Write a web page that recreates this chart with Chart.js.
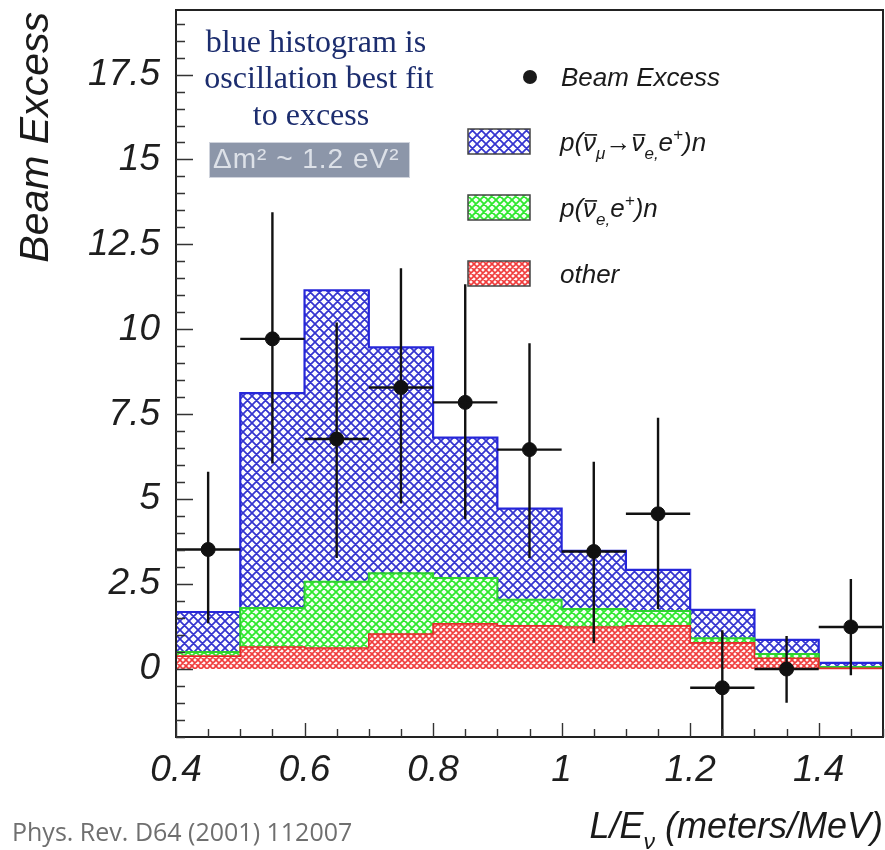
<!DOCTYPE html>
<html>
<head>
<meta charset="utf-8">
<script src="https://cdn.jsdelivr.net/npm/chart.js@4.4.0/dist/chart.umd.min.js"></script>
<style>
  html, body { margin: 0; padding: 0; background: #fff; }
  #wrap { width: 885px; height: 850px; }
</style>
</head>
<body>
<div id="wrap"><canvas id="chart" width="885" height="850"></canvas></div>
<script>
// bin lower edges in L/E (meters/MeV), every bin is 0.1 wide
var binLow = [0.4, 0.5, 0.6, 0.7, 0.8, 0.9, 1.0, 1.1, 1.2, 1.3, 1.4];
var binWidth = 0.1;

// expected events per bin, stacked bottom to top: other, nu_e bar, oscillation fit
var otherBkg = [0.38, 0.65, 0.62, 1.03, 1.33, 1.27, 1.24, 1.27, 0.77, 0.32, 0.02];
var nueBkg   = [0.12, 1.15, 1.95, 1.79, 1.35, 0.77, 0.53, 0.44, 0.14, 0.12, 0.04];
var oscFit   = [1.18, 6.32, 8.58, 6.65, 4.13, 2.68, 1.71, 1.21, 0.83, 0.42, 0.12];

// beam excess per bin with upper / lower errors
var excess  = [3.52, 9.72, 6.77, 8.29, 7.85, 6.46, 3.46, 4.57, -0.55, 0.00, 1.24];
var errUp   = [2.29, 3.73, 3.43, 3.51, 3.48, 3.13, 2.64, 2.83, 1.69, 0.97, 1.41];
var errDown = [2.17, 3.67, 3.50, 3.42, 3.43, 3.19, 2.69, 2.80, 1.69, 0.99, 1.42];

var xTickLabels = [0.4, 0.6, 0.8, 1, 1.2, 1.4];
var yTickLabels = [0, 2.5, 5, 7.5, 10, 12.5, 15, 17.5];

var SANS = '"Liberation Sans", Arial, Helvetica, sans-serif';
var ctx = document.getElementById('chart').getContext('2d');

// diagonal cross-hatch fill, like ROOT's fill style 3144
function makeHatch(p, line, bg, lw) {
  var c = document.createElement('canvas');
  c.width = p; c.height = p;
  var g = c.getContext('2d');
  g.fillStyle = bg;
  g.fillRect(0, 0, p, p);
  g.strokeStyle = line;
  g.lineWidth = lw;
  g.beginPath();
  for (var k = -1; k <= 1; k++) {
    g.moveTo(k * p - p, -p); g.lineTo(k * p + 2 * p, 2 * p);
  }
  for (var j = 0; j <= 2; j++) {
    g.moveTo(j * p + p, -p); g.lineTo(j * p - 2 * p, 2 * p);
  }
  g.stroke();
  return ctx.createPattern(c, 'repeat');
}

var blueHatch  = makeHatch(9, '#3434cf', '#fbfbff', 1.7);
var greenHatch = makeHatch(8, '#2ee82e', '#f4fff4', 1.8);
var redHatch   = makeHatch(6, '#f03c3c', '#fff6f6', 1.6);

// cumulative stack tops, one extra point closes the last bin at 1.5
function stackSteps(parts) {
  var pts = binLow.map(function (x, i) {
    var y = 0;
    parts.forEach(function (arr) { y += arr[i]; });
    return { x: x, y: +y.toFixed(3) };
  });
  var last = pts[pts.length - 1];
  pts.push({ x: +(last.x + binWidth).toFixed(2), y: last.y });
  return pts;
}

var points = binLow.map(function (x, i) {
  return { x: +(x + binWidth / 2).toFixed(3), y: excess[i] };
});

function histDataset(label, parts, color, pattern, order, lw) {
  return {
    label: label,
    data: stackSteps(parts),
    stepped: 'before',
    borderColor: color,
    borderWidth: lw,
    backgroundColor: pattern,
    fill: 'origin',
    pointRadius: 0,
    order: order
  };
}

// text with sub/superscript runs
function drawRuns(c, x, y, runs, size, measureOnly) {
  var cx = x;
  runs.forEach(function (r) {
    var s = r.sub || r.sup ? Math.round(size * 0.65) : size;
    var dy = r.sub ? size * 0.3 : (r.sup ? -size * 0.42 : 0);
    c.font = 'italic ' + s + 'px ' + SANS;
    var w = c.measureText(r.t).width;
    if (!measureOnly) {
      c.fillText(r.t, cx, y + dy);
      if (r.bar) {
        c.save();
        c.lineWidth = 1.6;
        c.beginPath();
        c.moveTo(cx + 2, y - size * 0.62);
        c.lineTo(cx + w + 1, y - size * 0.62);
        c.stroke();
        c.restore();
      }
    }
    cx += w + (r.gap || 0);
  });
  return cx - x;
}

var decorations = {
  id: 'decorations',
  beforeDraw: function (chart) {
    var c = chart.ctx;
    c.save();
    c.fillStyle = '#fff';
    c.fillRect(0, 0, chart.width, chart.height);
    c.restore();
  },
  afterDatasetsDraw: function (chart) {
    var c = chart.ctx, xs = chart.scales.x, ys = chart.scales.y, ca = chart.chartArea;
    // error bars on the beam excess points
    c.save();
    c.beginPath();
    c.rect(ca.left, ca.top, ca.right - ca.left, ca.bottom - ca.top);
    c.clip();
    c.strokeStyle = '#111';
    c.lineWidth = 2.4;
    points.forEach(function (p, i) {
      var px = xs.getPixelForValue(p.x);
      var py = ys.getPixelForValue(p.y);
      c.beginPath();
      c.moveTo(px, ys.getPixelForValue(p.y + errUp[i]));
      c.lineTo(px, ys.getPixelForValue(p.y - errDown[i]));
      c.moveTo(xs.getPixelForValue(p.x - binWidth / 2), py);
      c.lineTo(xs.getPixelForValue(p.x + binWidth / 2), py);
      c.stroke();
    });
    c.restore();
  },
  afterDraw: function (chart) {
    var c = chart.ctx, xs = chart.scales.x, ys = chart.scales.y, ca = chart.chartArea;
    c.save();

    // frame
    c.strokeStyle = '#222';
    c.lineWidth = 2;
    c.strokeRect(ca.left, ca.top, ca.right - ca.left, ca.bottom - ca.top);

    // inward ticks
    c.lineWidth = 1.4;
    c.strokeStyle = '#333';
    c.beginPath();
    for (var k = -4; k <= 38; k++) {
      var v = k * 0.5;
      if (v < ys.min || v > ys.max) continue;
      var py = Math.round(ys.getPixelForValue(v)) + 0.5;
      var len = (k % 5 === 0) ? 17 : 9;
      c.moveTo(ca.left, py);
      c.lineTo(ca.left + len, py);
    }
    for (var m = 8; m <= 30; m++) {
      var xv = m * 0.05;
      var px = Math.round(xs.getPixelForValue(xv)) + 0.5;
      var xl = (m % 4 === 0) ? 14 : 8;
      c.moveTo(px, ca.bottom);
      c.lineTo(px, ca.bottom - xl);
    }
    c.stroke();

    // legend
    var lx = ca.left + 292, fs = 26;
    c.fillStyle = '#1a1a1a';
    c.textBaseline = 'alphabetic';
    c.beginPath();
    c.arc(ca.left + 354, 77, 7, 0, Math.PI * 2);
    c.fill();
    c.font = 'italic ' + fs + 'px ' + SANS;
    c.fillText('Beam Excess', ca.left + 385, 86);

    var rows = [
      { y: 129, fill: blueHatch, runs: [
        { t: 'p(' }, { t: 'ν', bar: true }, { t: 'μ', sub: true },
        { t: '→' }, { t: 'ν', bar: true }, { t: 'e,', sub: true },
        { t: 'e' }, { t: '+', sup: true }, { t: ')n' }] },
      { y: 195, fill: greenHatch, runs: [
        { t: 'p(' }, { t: 'ν', bar: true }, { t: 'e,', sub: true },
        { t: 'e' }, { t: '+', sup: true }, { t: ')n' }] },
      { y: 261, fill: redHatch, runs: [{ t: 'other' }] }
    ];
    rows.forEach(function (r) {
      c.fillStyle = r.fill;
      c.fillRect(lx, r.y, 62, 25);
      c.strokeStyle = '#444';
      c.lineWidth = 1.5;
      c.strokeRect(lx, r.y, 62, 25);
      c.fillStyle = '#1a1a1a';
      c.strokeStyle = '#1a1a1a';
      drawRuns(c, ca.left + 384, r.y + 22, r.runs, fs);
    });

    // note on the fit
    c.fillStyle = '#1c2d6e';
    c.textAlign = 'center';
    c.font = '32px "Liberation Serif", "Times New Roman", serif';
    c.fillText('blue histogram is', 316, 52);
    c.fillText('oscillation best fit', 319, 88);
    c.fillText('to excess', 311, 125);

    c.fillStyle = '#8c96a9';
    c.fillRect(209, 142, 200, 35);
    c.strokeStyle = '#cfd3dc';
    c.lineWidth = 1;
    c.strokeRect(209.5, 142.5, 200, 35);
    c.fillStyle = '#dde1e8';
    c.textAlign = 'left';
    c.font = '28px ' + SANS;
    c.letterSpacing = '1px';
    c.fillText('Δm² ~ 1.2 eV²', 213, 168);
    c.letterSpacing = '0px';

    // axis titles
    c.fillStyle = '#1a1a1a';
    c.save();
    c.translate(48, 12);
    c.rotate(-Math.PI / 2);
    c.textAlign = 'right';
    c.font = 'italic 41px ' + SANS;
    c.fillText('Beam Excess', 0, 0);
    c.restore();

    var xt = [{ t: 'L/E' }, { t: 'ν', sub: true, gap: 10 }, { t: '(meters/MeV)' }];
    var w = drawRuns(c, 0, 0, xt, 36, true);
    drawRuns(c, ca.right - w, 838, xt, 36);

    // reference
    c.fillStyle = '#6f6f6f';
    c.font = '25px "Open Sans", "Noto Sans", sans-serif';
    c.fillText('Phys. Rev. D64 (2001) 112007', 12, 841);

    c.restore();
  }
};

var tickFont = { family: SANS, size: 37, style: 'italic' };

new Chart(ctx, {
  type: 'line',
  data: {
    datasets: [
      {
        label: 'Beam Excess',
        data: points,
        showLine: false,
        pointRadius: 7,
        pointHoverRadius: 7,
        pointBackgroundColor: '#111',
        pointBorderColor: '#111',
        order: 0
      },
      histDataset('other', [otherBkg], '#e52a2a', redHatch, 1, 1.6),
      histDataset('nue', [otherBkg, nueBkg], '#2ed22e', greenHatch, 2, 2),
      histDataset('osc', [otherBkg, nueBkg, oscFit], '#2626d9', blueHatch, 3, 2.2)
    ]
  },
  options: {
    responsive: false,
    animation: false,
    layout: { autoPadding: false, padding: { top: 10, right: 2, left: 0, bottom: 0 } },
    plugins: { legend: { display: false }, tooltip: { enabled: false } },
    scales: {
      x: {
        type: 'linear',
        min: 0.4,
        max: 1.5,
        grid: { display: false, drawTicks: false },
        border: { display: false },
        afterBuildTicks: function (s) {
          s.ticks = xTickLabels.map(function (v) { return { value: v }; });
        },
        afterFit: function (s) {
          s.height = 113;
          s.paddingLeft = 0;
          s.paddingRight = 0;
        },
        ticks: {
          font: tickFont,
          color: '#1e1e1e',
          padding: 12,
          maxRotation: 0,
          autoSkip: false,
          callback: function (v) { return String(v); }
        }
      },
      y: {
        type: 'linear',
        min: -2,
        max: 19.4,
        grid: { display: false, drawTicks: false },
        border: { display: false },
        afterBuildTicks: function (s) {
          s.ticks = yTickLabels.map(function (v) { return { value: v }; });
        },
        afterFit: function (s) {
          s.width = 176;
          s.paddingTop = 0;
          s.paddingBottom = 0;
        },
        ticks: {
          font: tickFont,
          color: '#1e1e1e',
          padding: 16,
          autoSkip: false,
          callback: function (v) { return String(v); }
        }
      }
    }
  },
  plugins: [decorations]
});
</script>
</body>
</html>
